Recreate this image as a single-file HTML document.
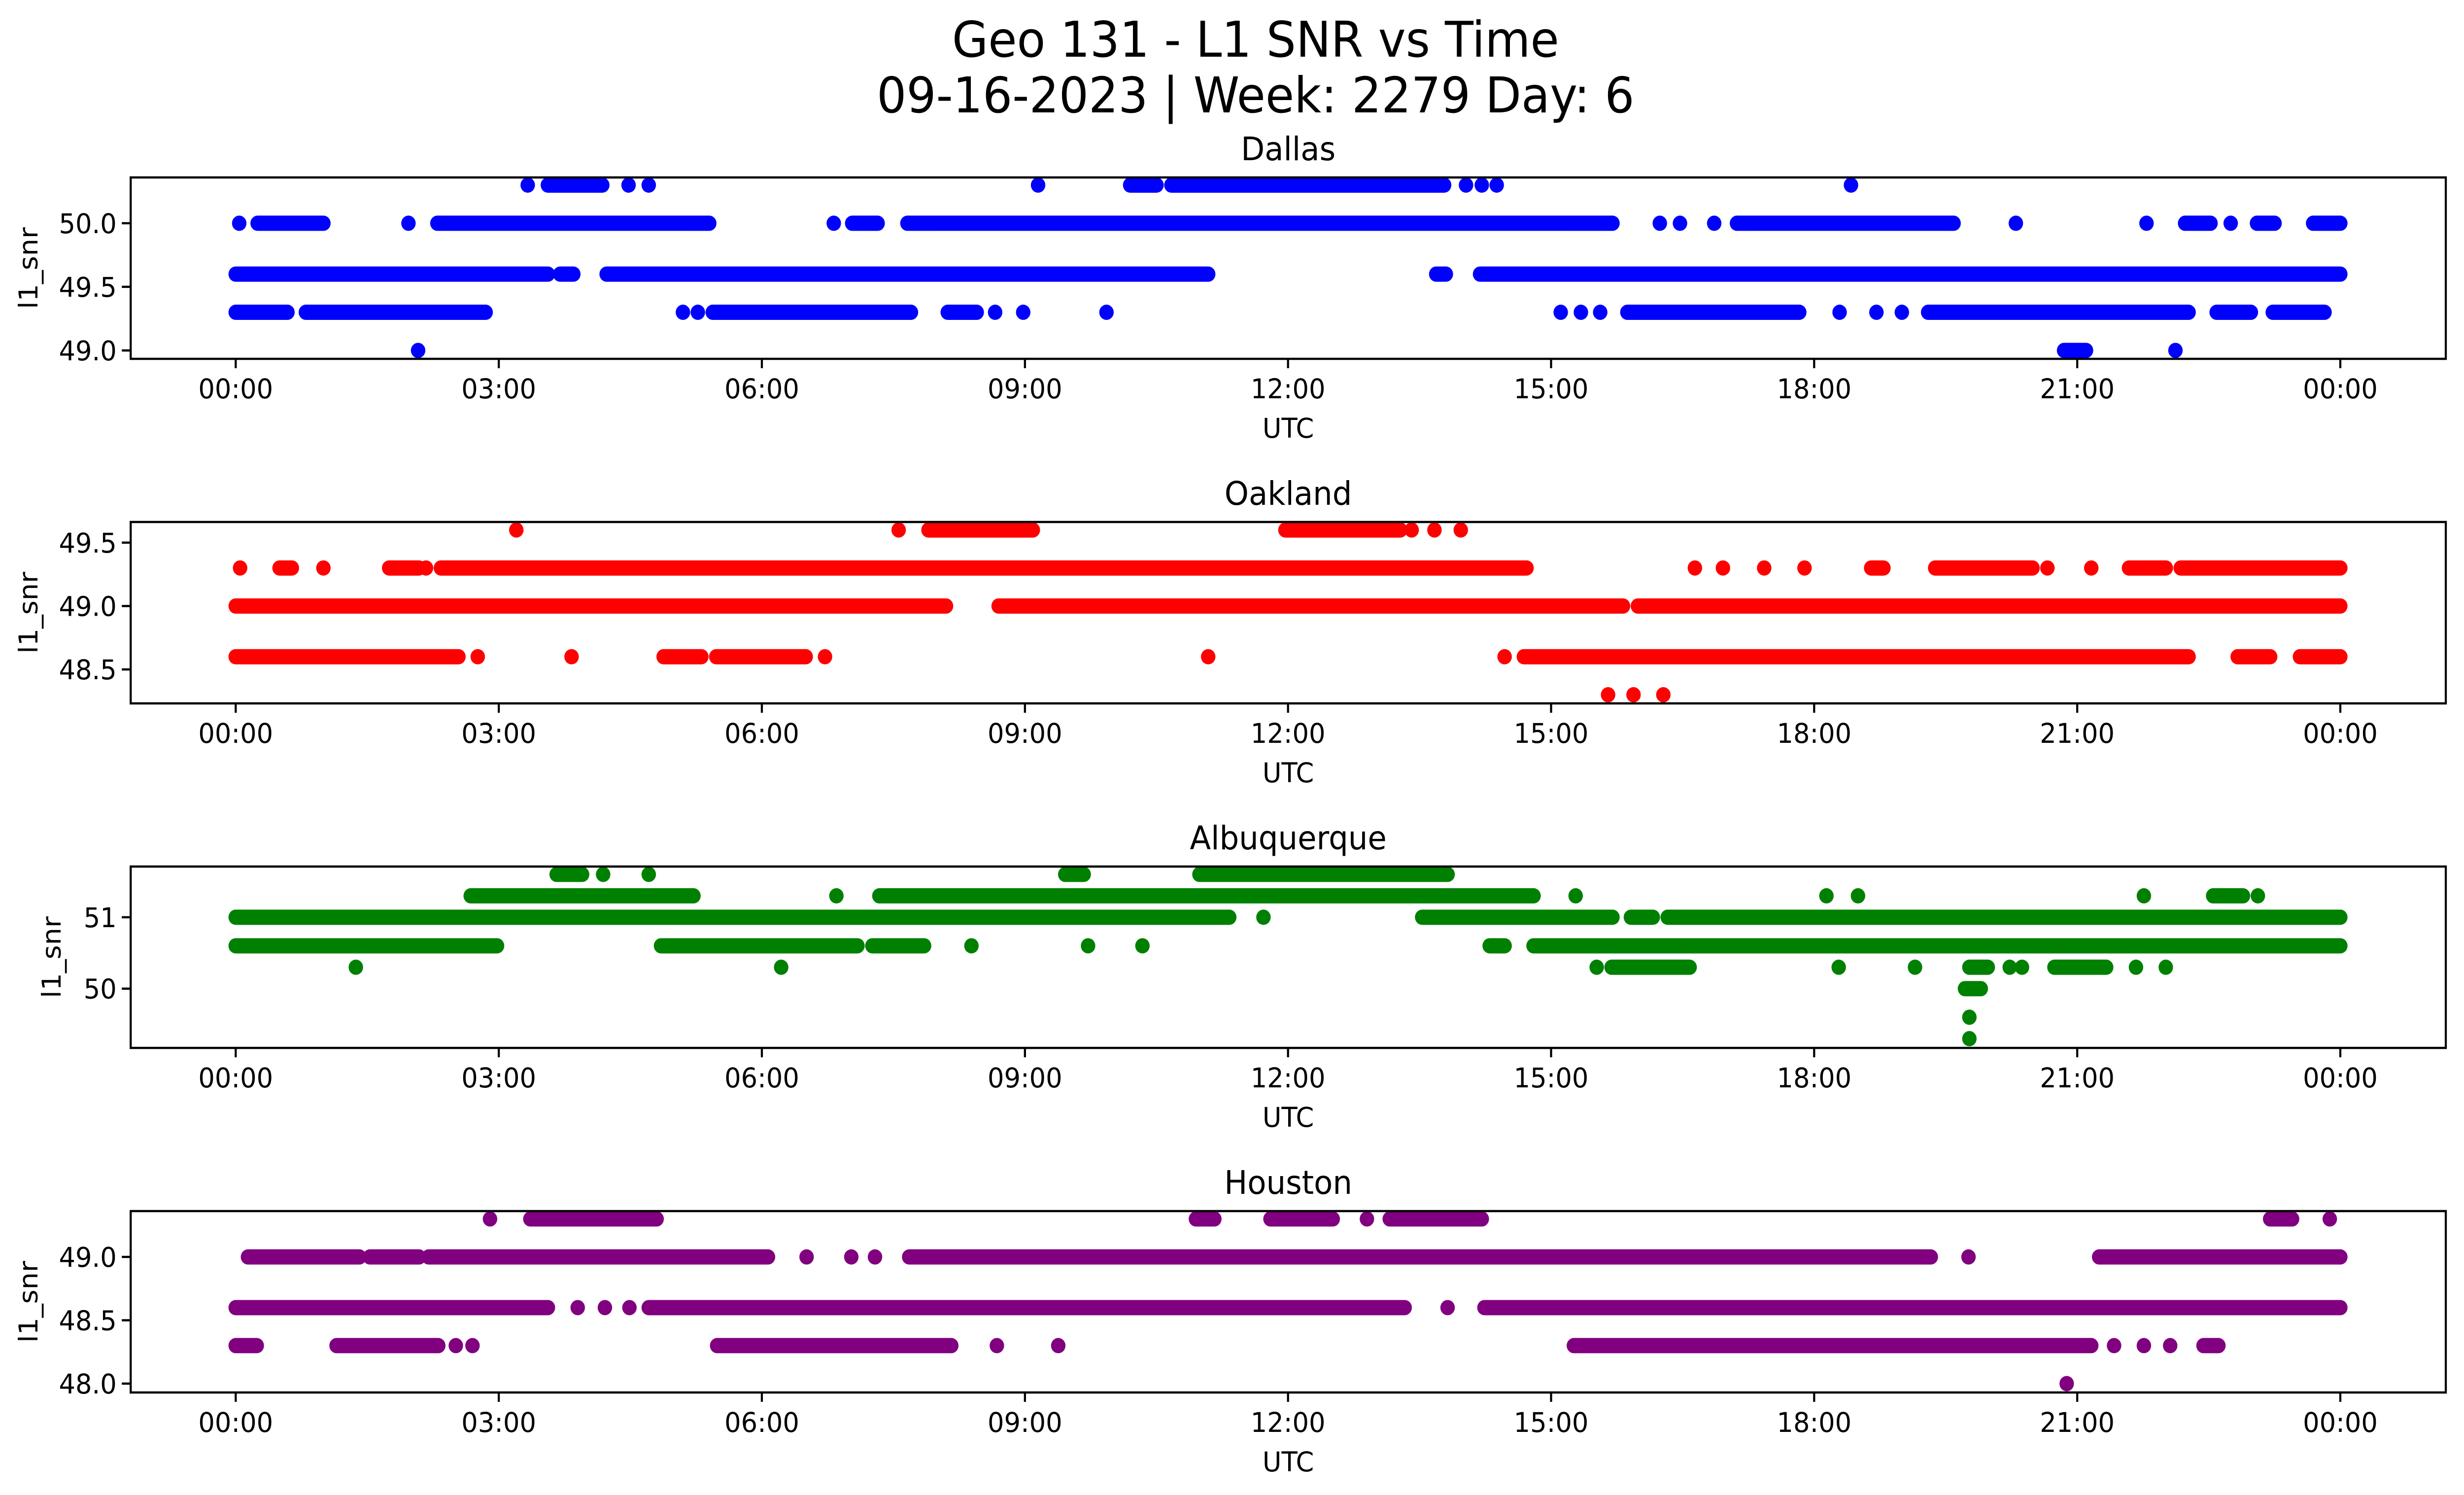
<!DOCTYPE html>
<html><head><meta charset="utf-8"><meta name="viewport" content="width=device-width"><style>
html,body{margin:0;padding:0;background:#fff;width:100%;height:100%;overflow:hidden}
svg{display:block;width:100vw;height:100vh}
text{font-family:"DejaVu Sans","Liberation Sans",sans-serif;fill:#000}
</style></head><body>
<svg id="chart" viewBox="0 0 5279 3033" preserveAspectRatio="none" xmlns="http://www.w3.org/2000/svg">
<rect width="5279" height="3033" fill="#fff"/>
<text x="2690" y="115" font-size="100" text-anchor="middle">Geo 131 - L1 SNR vs Time</text>
<text x="2690" y="228" font-size="100" text-anchor="middle">09-16-2023 | Week: 2279 Day: 6</text>
<g id="plots"></g>
</svg>
<script>
// Each run: [snr level, start hour, end hour]
const xTickLabels = ["00:00","03:00","06:00","09:00","12:00","15:00","18:00","21:00","00:00"];
const xTickHours = [0,3,6,9,12,15,18,21,24];

const dallasTicks = [49.0,49.5,50.0];
const dallasRuns = [
[50.3,3.33,3.33],[50.3,3.56,4.18],[50.3,4.48,4.48],[50.3,4.71,4.71],[50.3,9.15,9.15],[50.3,10.2,10.5],[50.3,10.67,13.78],[50.3,14.03,14.03],[50.3,14.21,14.21],[50.3,14.38,14.38],[50.3,18.42,18.42],
[50.0,0.04,0.04],[50.0,0.25,1.0],[50.0,1.97,1.97],[50.0,2.3,5.4],[50.0,6.82,6.82],[50.0,7.03,7.32],[50.0,7.66,15.7],[50.0,16.24,16.24],[50.0,16.47,16.47],[50.0,16.86,16.86],[50.0,17.12,19.59],[50.0,20.3,20.3],[50.0,21.79,21.79],[50.0,22.23,22.52],[50.0,22.75,22.75],[50.0,23.05,23.25],[50.0,23.69,24],
[49.6,0,3.56],[49.6,3.7,3.85],[49.6,4.23,11.09],[49.6,13.69,13.8],[49.6,14.19,24],
[49.3,0,0.59],[49.3,0.8,2.85],[49.3,5.1,5.1],[49.3,5.27,5.27],[49.3,5.44,7.7],[49.3,8.12,8.45],[49.3,8.66,8.66],[49.3,8.98,8.98],[49.3,9.93,9.93],[49.3,15.11,15.11],[49.3,15.34,15.34],[49.3,15.56,15.56],[49.3,15.87,17.83],[49.3,18.29,18.29],[49.3,18.71,18.71],[49.3,19.0,19.0],[49.3,19.3,22.27],[49.3,22.59,22.98],[49.3,23.23,23.82],
[49.0,2.08,2.08],[49.0,20.85,21.1],[49.0,22.12,22.12]];

const oaklandTicks = [48.5,49.0,49.5];
const oaklandRuns = [
[49.6,3.2,3.2],[49.6,7.56,7.56],[49.6,7.9,9.09],[49.6,11.97,13.28],[49.6,13.41,13.41],[49.6,13.67,13.67],[49.6,13.97,13.97],
[49.3,0.05,0.05],[49.3,0.5,0.64],[49.3,1.0,1.0],[49.3,1.75,2.09],[49.3,2.17,2.17],[49.3,2.34,14.72],[49.3,16.64,16.64],[49.3,16.96,16.96],[49.3,17.43,17.43],[49.3,17.89,17.89],[49.3,18.65,18.79],[49.3,19.38,20.49],[49.3,20.66,20.66],[49.3,21.16,21.16],[49.3,21.59,22.01],[49.3,22.18,24],
[49.0,0,8.1],[49.0,8.7,15.82],[49.0,15.99,24],
[48.6,0,2.54],[48.6,2.76,2.76],[48.6,3.83,3.83],[48.6,4.88,5.31],[48.6,5.48,6.5],[48.6,6.72,6.72],[48.6,11.09,11.09],[48.6,14.47,14.47],[48.6,14.69,22.27],[48.6,22.83,23.2],[48.6,23.54,24],
[48.3,15.65,15.65],[48.3,15.94,15.94],[48.3,16.28,16.28]];

const albuquerqueTicks = [50,51];
const albuquerqueRuns = [
[51.6,3.66,3.95],[51.6,4.19,4.19],[51.6,4.71,4.71],[51.6,9.46,9.67],[51.6,10.99,13.82],
[51.3,2.68,5.22],[51.3,6.85,6.85],[51.3,7.34,14.8],[51.3,15.28,15.28],[51.3,18.14,18.14],[51.3,18.5,18.5],[51.3,21.76,21.76],[51.3,22.55,22.89],[51.3,23.06,23.06],
[51.0,0,11.33],[51.0,11.72,11.72],[51.0,13.53,15.7],[51.0,15.91,16.16],[51.0,16.33,24],
[50.6,0,2.98],[50.6,4.85,7.09],[50.6,7.26,7.85],[50.6,8.39,8.39],[50.6,9.72,9.72],[50.6,10.34,10.34],[50.6,14.3,14.47],[50.6,14.8,24],
[50.3,1.37,1.37],[50.3,6.22,6.22],[50.3,15.52,15.52],[50.3,15.69,16.58],[50.3,18.28,18.28],[50.3,19.15,19.15],[50.3,19.77,19.98],[50.3,20.23,20.23],[50.3,20.37,20.37],[50.3,20.74,21.33],[50.3,21.67,21.67],[50.3,22.01,22.01],
[50.0,19.72,19.9],[49.6,19.77,19.77],[49.3,19.77,19.77]];

const houstonTicks = [48.0,48.5,49.0];
const houstonRuns = [
[49.3,2.9,2.9],[49.3,3.36,4.8],[49.3,10.95,11.16],[49.3,11.8,12.51],[49.3,12.9,12.9],[49.3,13.16,14.21],[49.3,23.2,23.45],[49.3,23.88,23.88],
[49.0,0.14,1.41],[49.0,1.53,2.09],[49.0,2.2,6.07],[49.0,6.51,6.51],[49.0,7.02,7.02],[49.0,7.29,7.29],[49.0,7.68,19.33],[49.0,19.76,19.76],[49.0,21.25,24],
[48.6,0,3.56],[48.6,3.9,3.9],[48.6,4.21,4.21],[48.6,4.49,4.49],[48.6,4.71,13.33],[48.6,13.82,13.82],[48.6,14.24,24],
[48.3,0,0.24],[48.3,1.15,2.31],[48.3,2.51,2.51],[48.3,2.7,2.7],[48.3,5.49,8.16],[48.3,8.68,8.68],[48.3,9.38,9.38],[48.3,15.26,21.16],[48.3,21.42,21.42],[48.3,21.76,21.76],[48.3,22.06,22.06],[48.3,22.44,22.61],
[48.0,20.88,20.88]];

const panels = [
 {name:"Dallas", color:"#0000ff", runs:dallasRuns, ticks:dallasTicks, fmt:1, top:360, ymin:48.934, ymax:50.36},
 {name:"Oakland", color:"#ff0000", runs:oaklandRuns, ticks:oaklandTicks, fmt:1, top:1059, ymin:48.232, ymax:49.663},
 {name:"Albuquerque", color:"#008000", runs:albuquerqueRuns, ticks:albuquerqueTicks, fmt:0, top:1758, ymin:49.17, ymax:51.71},
 {name:"Houston", color:"#800080", runs:houstonRuns, ticks:houstonTicks, fmt:1, top:2457, ymin:47.93, ymax:49.362}
];
const L=280, R=5240, H=368, X0=505, X24=5014;
const NS="http://www.w3.org/2000/svg";
const root=document.getElementById("plots");
function mk(tag, attrs, parent){const e=document.createElementNS(NS,tag);for(const k in attrs)e.setAttribute(k,attrs[k]);parent.appendChild(e);return e;}
const xs = h => X0 + h*(X24-X0)/24;
panels.forEach(p=>{
  const g=mk("g",{},root);
  
  
  const ys = v => p.top + H - (v-p.ymin)/(p.ymax-p.ymin)*H;
  const t=mk("text",{x:(L+R)/2,y:p.top-35,"font-size":"66","text-anchor":"middle"},g);
  t.textContent=p.name;
  
  
  const marks=mk("g",{stroke:p.color,"stroke-width":"31","stroke-linecap":"round",fill:"none"},g);
  p.runs.forEach(r=>{
    const ln=mk("line",{x1:xs(r[1]),x2:xs(r[2]),y1:ys(r[0]),y2:ys(r[0])},marks);
    
    
  });
  const fr=mk("rect",{x:L,y:p.top,width:R-L,height:H,fill:"none",stroke:"#000","stroke-width":"4.5"},g);
  
  
  xTickHours.forEach((h,i)=>{
    const x=xs(h);
    mk("line",{x1:x,x2:x,y1:p.top+H,y2:p.top+H+19,stroke:"#000","stroke-width":"4.5"},g);
    const tl=mk("text",{x:x,y:p.top+H+80,"font-size":"55.6","text-anchor":"middle"},g);
    tl.textContent=xTickLabels[i];
    
    
  });
  p.ticks.forEach(v=>{
    const y=ys(v);
    mk("line",{x1:L-19,x2:L,y1:y,y2:y,stroke:"#000","stroke-width":"4.5"},g);
    const tl=mk("text",{x:L-30,y:y+20,"font-size":"55.6","text-anchor":"end"},g);
    tl.textContent=v.toFixed(p.fmt);
    
    
  });
  const xl=mk("text",{x:(L+R)/2,y:p.top+H+160,"font-size":"55.6","text-anchor":"middle"},g);
  xl.textContent="UTC";
  
  
  const yx = p.fmt===0 ? 130 : 80;
  const yl=mk("text",{x:0,y:0,"font-size":"55.6","text-anchor":"middle",transform:`translate(${yx},${p.top+H/2}) rotate(-90)`},g);
  yl.textContent="l1_snr";
  
  
});
</script>
</body></html>
